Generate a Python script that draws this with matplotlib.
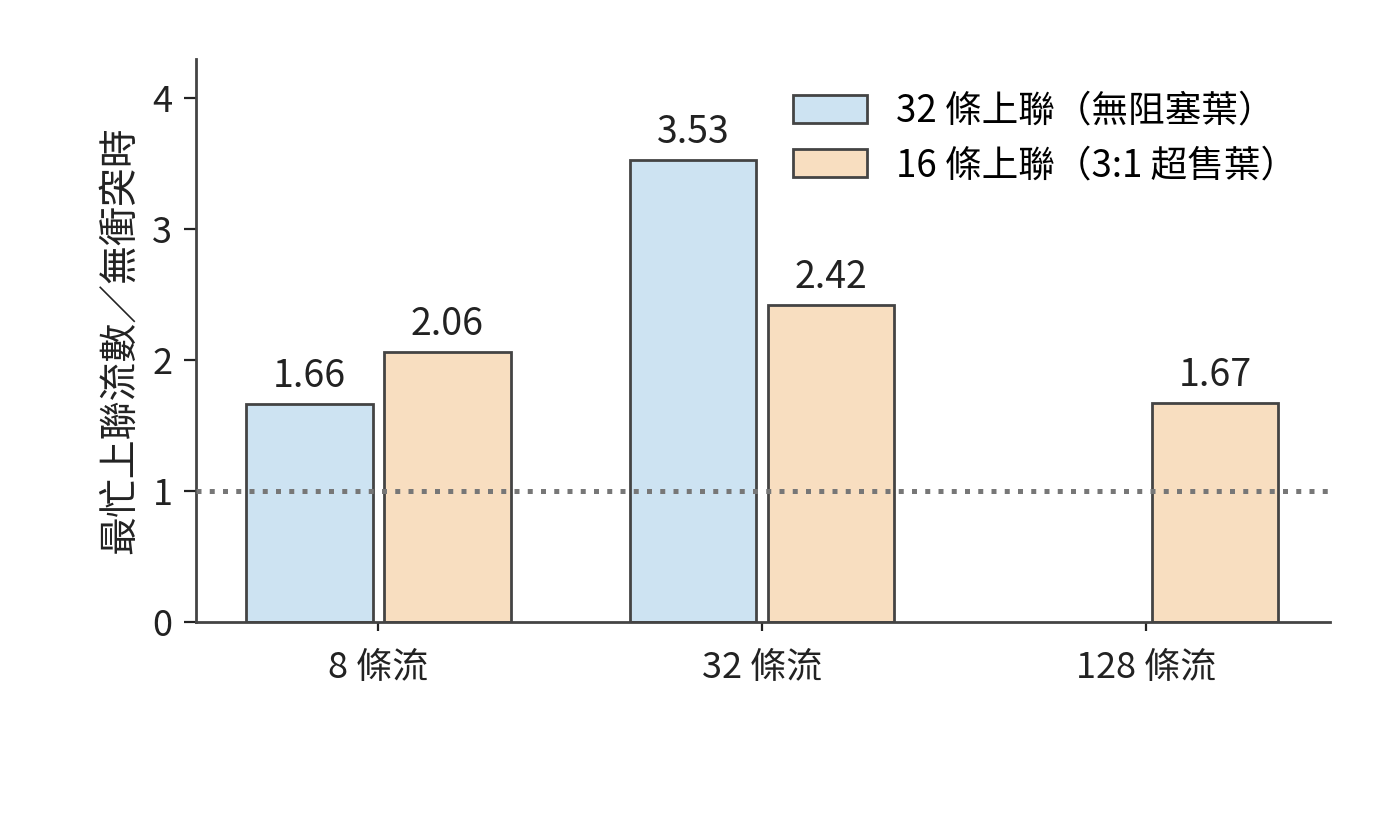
import numpy as np
import matplotlib.pyplot as plt

# Data
categories = ["8 條流", "32 條流", "128 條流"]
series_names = ["32 條上聯（無阻塞葉）", "16 條上聯（3:1 超售葉）"]
nonblocking = [1.66, 3.53, np.nan]
oversub = [2.06, 2.42, 1.67]

plt.rcParams['font.family'] = ['Noto Sans CJK TC', 'DejaVu Sans']
plt.rcParams['font.size'] = 13

fig, ax = plt.subplots(figsize=(7, 4.2), dpi=200)
fig.subplots_adjust(left=0.14, right=0.95, top=0.93, bottom=0.26)

x = np.arange(len(categories))
w = 0.33
off = 0.18
edge = '#444444'
b1 = ax.bar(x - off, nonblocking, w, color='#cde3f2', edgecolor=edge, linewidth=1.0,
            label=series_names[0])
b2 = ax.bar(x + off, oversub, w, color='#f8dec0', edgecolor=edge, linewidth=1.0,
            label=series_names[1])

for bars, vals in [(b1, nonblocking), (b2, oversub)]:
    for rect, v in zip(bars, vals):
        if np.isnan(v):
            continue
        ax.text(rect.get_x() + rect.get_width() / 2, v + 0.06, f"{v:.2f}",
                ha='center', va='bottom', fontsize=13.5, color='#222222')

ax.axhline(1, color='#777777', linestyle=':', linewidth=1.8, zorder=3)

ax.set_xticks(x)
ax.set_xticklabels(categories)
ax.set_xlim(-0.475, 2.48)
ax.set_ylim(0, 4.3)
ax.set_yticks([0, 1, 2, 3, 4])
ax.set_ylabel("最忙上聯流數／無衝突時", fontsize=14, color='#222222', labelpad=4.5)

for s in ['top', 'right']:
    ax.spines[s].set_visible(False)
for s in ['left', 'bottom']:
    ax.spines[s].set_color(edge)
    ax.spines[s].set_linewidth(1.0)
ax.tick_params(axis='both', colors='#222222', labelsize=13)
ax.tick_params(axis='y', length=4.5, color='#222222', pad=4)
ax.tick_params(axis='x', length=3.2, color='#222222', pad=7)

ax.legend(loc='upper right', frameon=False, fontsize=13.2, handlelength=2.0,
          handleheight=0.8, handletextpad=0.8, labelspacing=0.42,
          bbox_to_anchor=(1.0, 1.0))

plt.savefig('out.png', dpi=200)
